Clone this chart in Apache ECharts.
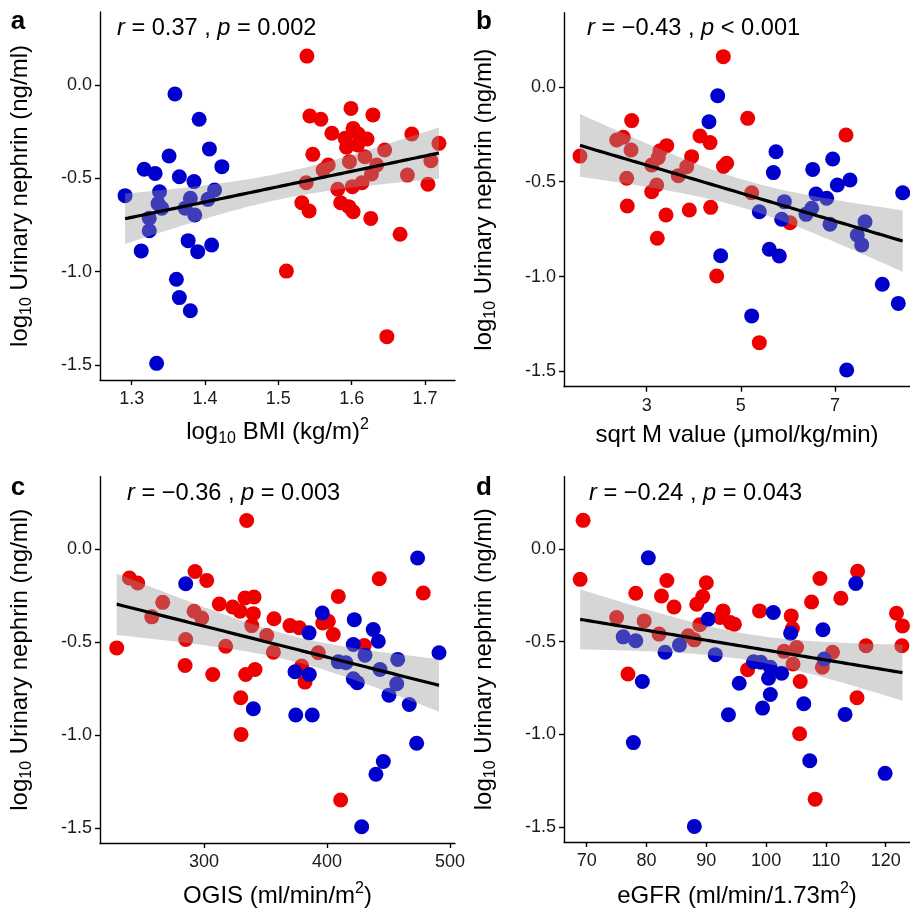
<!DOCTYPE html>
<html>
<head>
<meta charset="utf-8">
<script src="https://cdn.jsdelivr.net/npm/echarts@6/dist/echarts.min.js"></script>
<style>html,body{margin:0;padding:0;background:#fff;}#chart{width:910px;height:912px;}</style>
</head>
<body>
<div id="chart"></div>
<script>
// ---------- data ----------
const aRed = [[1.539,0.154],[1.543,-0.167],[1.558,-0.184],[1.599,-0.126],[1.629,-0.161],[1.573,-0.259],[1.602,-0.233],[1.591,-0.286],[1.609,-0.263],[1.621,-0.290],[1.593,-0.334],[1.608,-0.322],[1.682,-0.263],[1.719,-0.313],[1.547,-0.372],[1.645,-0.349],[1.618,-0.385],[1.568,-0.429],[1.597,-0.411],[1.561,-0.456],[1.634,-0.429],[1.627,-0.477],[1.708,-0.406],[1.676,-0.483],[1.538,-0.524],[1.614,-0.524],[1.601,-0.545],[1.581,-0.559],[1.704,-0.532],[1.532,-0.631],[1.542,-0.675],[1.585,-0.631],[1.596,-0.652],[1.602,-0.679],[1.626,-0.715],[1.666,-0.800],[1.511,-0.997],[1.648,-1.348]];
const aBlue = [[1.359,-0.049],[1.392,-0.184],[1.406,-0.343],[1.351,-0.381],[1.317,-0.452],[1.332,-0.474],[1.423,-0.438],[1.365,-0.492],[1.385,-0.518],[1.338,-0.572],[1.413,-0.563],[1.291,-0.593],[1.380,-0.607],[1.404,-0.613],[1.336,-0.636],[1.341,-0.660],[1.373,-0.660],[1.386,-0.697],[1.324,-0.714],[1.324,-0.781],[1.377,-0.834],[1.409,-0.857],[1.390,-0.893],[1.313,-0.889],[1.361,-1.041],[1.365,-1.139],[1.380,-1.209],[1.334,-1.491]];

const bRed = [[4.627,0.159],[2.681,-0.178],[2.503,-0.266],[2.363,-0.280],[2.667,-0.333],[3.425,-0.310],[3.282,-0.337],[1.583,-0.365],[4.132,-0.259],[4.345,-0.294],[3.246,-0.373],[3.106,-0.412],[3.955,-0.368],[3.850,-0.421],[3.671,-0.468],[2.575,-0.482],[3.212,-0.517],[3.106,-0.553],[2.588,-0.628],[3.410,-0.675],[3.905,-0.649],[4.359,-0.635],[3.225,-0.798],[4.487,-0.997],[4.699,-0.403],[4.630,-0.420],[5.145,-0.166],[7.233,-0.254],[5.230,-0.558],[6.044,-0.716],[5.392,-1.348]];
const bBlue = [[4.508,-0.047],[4.323,-0.184],[4.571,-0.890],[5.746,-0.342],[5.690,-0.452],[6.526,-0.435],[6.951,-0.380],[7.049,-0.517],[7.318,-0.491],[8.437,-0.558],[6.596,-0.565],[6.823,-0.587],[5.923,-0.605],[5.392,-0.658],[6.505,-0.640],[6.384,-0.672],[5.867,-0.698],[6.893,-0.724],[7.637,-0.711],[7.473,-0.781],[7.567,-0.833],[5.604,-0.856],[5.817,-0.891],[8.004,-1.040],[8.344,-1.141],[5.230,-1.207],[7.248,-1.492]];

const cRed = [[334.7,0.154],[239.3,-0.155],[246.1,-0.182],[292.7,-0.120],[302.2,-0.168],[266.4,-0.286],[312.4,-0.295],[333.3,-0.263],[340.7,-0.257],[323.3,-0.311],[329.3,-0.334],[340.1,-0.347],[257.5,-0.364],[291.9,-0.334],[298.1,-0.370],[356.9,-0.374],[338.8,-0.411],[285.1,-0.486],[317.6,-0.522],[229.0,-0.531],[351.0,-0.465],[356.4,-0.554],[284.6,-0.626],[307.1,-0.674],[333.9,-0.674],[341.5,-0.647],[329.8,-0.799],[330.1,-0.996],[369.9,-0.411],[377.5,-0.423],[409.2,-0.254],[442.5,-0.159],[478.3,-0.236],[396.5,-0.397],[401.1,-0.388],[405.1,-0.459],[392.9,-0.557],[379.4,-0.629],[382.1,-0.715],[430.3,-0.518],[411.1,-1.349]];
const cBlue = [[285.1,-0.186],[340.1,-0.858],[473.7,-0.048],[396.2,-0.343],[422.2,-0.379],[437.6,-0.432],[385.4,-0.450],[441.7,-0.495],[421.4,-0.513],[430.9,-0.570],[491.1,-0.557],[409.2,-0.606],[415.4,-0.611],[457.5,-0.593],[374.0,-0.659],[385.6,-0.674],[443.1,-0.647],[421.4,-0.697],[424.6,-0.718],[456.7,-0.724],[450.4,-0.785],[466.9,-0.835],[374.6,-0.892],[388.0,-0.892],[472.9,-1.044],[445.8,-1.142],[439.8,-1.210],[428.2,-1.493]];

const dRed = [[69.4,0.154],[68.9,-0.164],[83.4,-0.170],[90.0,-0.182],[78.2,-0.239],[82.5,-0.254],[89.4,-0.257],[88.4,-0.298],[84.6,-0.313],[92.8,-0.334],[92.3,-0.370],[75.0,-0.370],[79.6,-0.388],[88.9,-0.409],[82.1,-0.459],[87.0,-0.468],[88.0,-0.490],[76.9,-0.674],[94.0,-0.397],[115.3,-0.120],[109.0,-0.159],[112.5,-0.266],[107.6,-0.286],[121.8,-0.347],[122.8,-0.415],[122.7,-0.522],[116.7,-0.522],[98.9,-0.334],[104.2,-0.361],[94.7,-0.406],[104.4,-0.429],[103.0,-0.552],[105.1,-0.531],[111.1,-0.557],[104.5,-0.620],[109.4,-0.638],[96.9,-0.651],[105.7,-0.715],[115.2,-0.802],[105.6,-0.996],[108.2,-1.349]];
const dBlue = [[80.3,-0.048],[90.3,-0.379],[76.1,-0.474],[78.2,-0.495],[85.5,-0.518],[83.1,-0.557],[91.5,-0.570],[79.3,-0.715],[77.8,-1.044],[88.0,-1.496],[93.7,-0.894],[115.0,-0.186],[101.2,-0.343],[109.5,-0.436],[104.1,-0.454],[97.9,-0.608],[99.1,-0.611],[100.7,-0.638],[102.6,-0.670],[100.4,-0.697],[109.7,-0.593],[95.5,-0.724],[100.7,-0.785],[106.3,-0.835],[99.4,-0.858],[113.2,-0.892],[107.3,-1.142],[119.9,-1.210]];

// tick values
const yTicks = [-1.5, -1.0, -0.5, 0.0];
const aTicks = [1.3, 1.4, 1.5, 1.6, 1.7];
const bTicks = [3, 5, 7];
const cTicks = [300, 400, 500];
const dTicks = [70, 80, 90, 100, 110, 120];

// annotation labels
const statLabels = ['{i|r} = 0.37 , {i|p} = 0.002', '{i|r} = \u22120.43 , {i|p} < 0.001', '{i|r} = \u22120.36 , {i|p} = 0.003', '{i|r} = \u22120.24 , {i|p} = 0.043'];
const panelLetters = ['a', 'b', 'c', 'd'];
const xNames = ['{m|log}{s|10}{m| BMI (kg/m)}{p|2}', '{m|sqrt M value (\u03bcmol/kg/min)}', '{m|OGIS (ml/min/m}{p|2}{m|)}', '{m|eGFR (ml/min/1.73m}{p|2}{m|)}'];
const yName = '{m|log}{s|10}{m| Urinary nephrin (ng/ml)}';

// ---------- layout ----------
const FONT = "'Liberation Sans', Arial, Helvetica, sans-serif";
const RED = '#EE0000', BLUE = '#0000CD';
const panels = [
  {red: aRed, blue: aBlue, ticks: aTicks, grid: {left: 100, top: 12, width: 355, height: 368}, xmin: 1.2568, xmax: 1.7409, dec: 1, nameGap: 37, letter: [18, 22], stat: [117, 28]},
  {red: bRed, blue: bBlue, ticks: bTicks, grid: {left: 564, top: 12.8, width: 346, height: 373.9}, xmin: 1.2434, xmax: 8.5926, dec: 0, nameGap: 34, letter: [484, 22], stat: [587, 28]},
  {red: cRed, blue: cBlue, ticks: cTicks, grid: {left: 100, top: 476.6, width: 355, height: 367.4}, xmin: 215.4, xmax: 504.1, dec: 0, nameGap: 38, letter: [18, 488], stat: [127, 493]},
  {red: dRed, blue: dBlue, ticks: dTicks, grid: {left: 564, top: 476.6, width: 346, height: 367.4}, xmin: 66.2, xmax: 124.06, dec: 0, nameGap: 39, letter: [484, 488], stat: [589, 493]}
];
const YMIN = -1.58, YMAX = 0.39;

// least-squares fit with 95% confidence band
function fitLine(pts) {
  const n = pts.length;
  let sx = 0, sy = 0;
  pts.forEach(p => { sx += p[0]; sy += p[1]; });
  const mx = sx / n, my = sy / n;
  let sxx = 0, sxy = 0;
  pts.forEach(p => { sxx += (p[0] - mx) ** 2; sxy += (p[0] - mx) * (p[1] - my); });
  const b = sxy / sxx, a = my - b * mx;
  let sse = 0;
  pts.forEach(p => { sse += (p[1] - a - b * p[0]) ** 2; });
  const s = Math.sqrt(sse / (n - 2));
  const t = 1.997;
  const xs = pts.map(p => p[0]);
  const x0 = Math.min(...xs), x1 = Math.max(...xs);
  const line = [], upper = [], lower = [];
  const N = 80;
  for (let i = 0; i <= N; i++) {
    const x = x0 + (x1 - x0) * i / N;
    const yh = a + b * x;
    const se = s * Math.sqrt(1 / n + (x - mx) ** 2 / sxx);
    line.push([x, yh]);
    upper.push([x, yh + t * se]);
    lower.push([x, yh - t * se]);
  }
  return {line, upper, lower};
}

const richName = {
  m: {fontSize: 24, fontFamily: FONT, color: '#000', lineHeight: 30},
  s: {fontSize: 16, fontFamily: FONT, color: '#000', lineHeight: 14, verticalAlign: 'bottom'},
  p: {fontSize: 16, fontFamily: FONT, color: '#000', lineHeight: 14, verticalAlign: 'top'}
};

const grids = [], xAxes = [], yAxes = [], series = [], graphics = [];
panels.forEach((P, i) => {
  grids.push(Object.assign({containLabel: false}, P.grid));
  const axisLine = {show: true, onZero: false, lineStyle: {color: '#000', width: 1.4}};
  const axisTickX = {show: true, length: 5, lineStyle: {color: '#000', width: 1.4}, customValues: P.ticks};
  xAxes.push({
    type: 'value', gridIndex: i, min: P.xmin, max: P.xmax,
    axisLine, axisTick: axisTickX, splitLine: {show: false},
    axisLabel: {customValues: P.ticks, margin: 10, fontSize: 18, fontFamily: FONT, color: '#1a1a1a',
      formatter: v => v.toFixed(P.dec)},
    name: xNames[i], nameLocation: 'middle', nameGap: P.nameGap,
    nameTextStyle: {rich: richName, fontSize: 24, fontFamily: FONT, color: '#000', lineHeight: 30}
  });
  yAxes.push({
    type: 'value', gridIndex: i, min: YMIN, max: YMAX,
    axisLine, axisTick: {show: true, length: 5, lineStyle: {color: '#000', width: 1.4}, customValues: yTicks},
    splitLine: {show: false},
    axisLabel: {customValues: yTicks, margin: 8, fontSize: 18, fontFamily: FONT, color: '#1a1a1a',
      formatter: v => v.toFixed(1)},
    name: yName, nameLocation: 'middle', nameGap: 65,
    nameTextStyle: {rich: richName, fontSize: 24, fontFamily: FONT, color: '#000', lineHeight: 30}
  });
  series.push({type: 'scatter', xAxisIndex: i, yAxisIndex: i, data: P.red, symbolSize: 15,
    itemStyle: {color: RED, opacity: 1}, z: 2, silent: true});
  series.push({type: 'scatter', xAxisIndex: i, yAxisIndex: i, data: P.blue, symbolSize: 15,
    itemStyle: {color: BLUE, opacity: 1}, z: 2, silent: true});
  const f = fitLine(P.red.concat(P.blue));
  series.push({
    type: 'custom', xAxisIndex: i, yAxisIndex: i, z: 3, silent: true,
    data: [f.line[0]],
    renderItem: (params, api) => {
      const pts = f.upper.map(p => api.coord(p)).concat(f.lower.slice().reverse().map(p => api.coord(p)));
      return {type: 'polygon', shape: {points: pts}, style: {fill: 'rgba(153,153,153,0.4)'}};
    }
  });
  series.push({type: 'line', xAxisIndex: i, yAxisIndex: i, data: f.line, showSymbol: false, z: 4, silent: true,
    lineStyle: {color: '#000', width: 3.2}});
  graphics.push({type: 'text', x: P.letter[0], y: P.letter[1], silent: true,
    style: {text: panelLetters[i], fontSize: 26, fontWeight: 'bold', fontFamily: FONT, fill: '#000',
      align: 'center', verticalAlign: 'middle', textAlign: 'center', textVerticalAlign: 'middle'}});
  graphics.push({type: 'text', x: P.stat[0], y: P.stat[1], silent: true,
    style: {text: statLabels[i], fontSize: 23.6, fontFamily: FONT, fill: '#000',
      align: 'left', verticalAlign: 'middle', textAlign: 'left', textVerticalAlign: 'middle',
      rich: {i: {fontStyle: 'italic', fontSize: 23.6, fontFamily: FONT, fill: '#000', color: '#000'}}}});
});

const chart = echarts.init(document.getElementById('chart'), null, {renderer: 'canvas'});
chart.setOption({
  animation: false,
  backgroundColor: '#fff',
  grid: grids, xAxis: xAxes, yAxis: yAxes, series, graphic: graphics
});
</script>
</body>
</html>
